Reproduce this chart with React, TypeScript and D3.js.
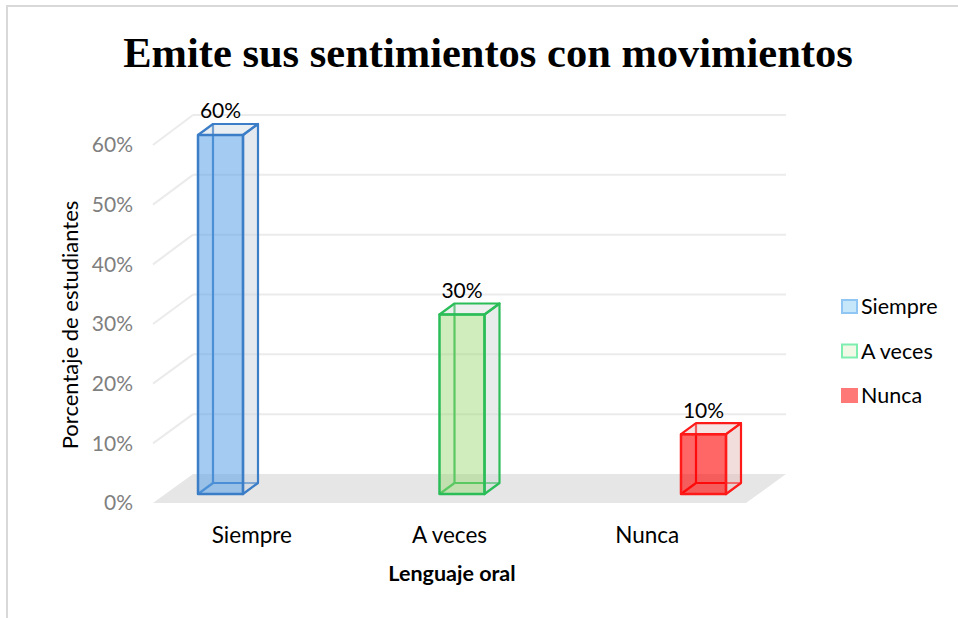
import React from "react";
import * as d3 from "d3";

const categories = ["Siempre", "A veces", "Nunca"];
const values = [0.6, 0.3, 0.1];
const dataLabels = ["60%", "30%", "10%"];
const yTicks = [0, 0.1, 0.2, 0.3, 0.4, 0.5, 0.6];
const barFill = ["#5aa0e6", "#96d76e", "#ff0000"];
const barFillOpacity = [0.55, 0.45, 0.6];
const barStroke = ["#3b7dc6", "#2bbd58", "#ff1a1a"];
const sideFill = ["#c9d4e2", "#d2dad6", "#e6bcbc"];
const legendFill = ["#c6e6fa", "#f1f8e6", "#ff7878"];
const legendStroke = ["#90c6f4", "#7eeeb0", "#ff7878"];

const TITLE = "Emite sus sentimientos con movimientos";
const Y_TITLE = "Porcentaje de estudiantes";
const X_TITLE = "Lenguaje oral";

const SANS = "Lato, 'Open Sans', sans-serif";

export default function App() {
  // front plane (axis labels) and back wall
  const yFront = d3.scaleLinear().domain([0, 0.6]).range([503, 145]);
  const yBack = d3.scaleLinear().domain([0, 0.6]).range([474, 115]);
  const depthDx = 40;
  const frontLeft = 153;
  const frontRight = 746;
  const xLabel = d3.scaleBand<string>().domain(categories).range([frontLeft, frontRight]);
  // bars plane
  const xBar = d3.scalePoint<string>().domain(categories).range([220.5, 703.5]);
  const yBar = d3.scaleLinear().domain([0, 0.6]).range([494, 135]);
  const bw = 45;
  const bdx = 15;
  const bdy = -11;

  const pts = (p: number[][]) => p.map((q) => q.join(",")).join(" ");

  return (
    <svg
      width={958}
      height={618}
      style={{ position: "absolute", left: 0, top: 0, background: "#fff" }}
    >
      <rect x={0} y={0} width={958} height={618} fill="#fff" />
      <rect x={7} y={6} width={1000} height={700} fill="#fff" stroke="#d9d9d9" strokeWidth={2} />

      {/* title */}
      <text
        x={488}
        y={67}
        textAnchor="middle"
        fontFamily="'Liberation Serif', 'Times New Roman', serif"
        fontWeight="bold"
        fontSize={42.5}
        fill="#000"
      >
        {TITLE}
      </text>

      {/* floor */}
      <polygon
        points={pts([
          [frontLeft, yFront(0)],
          [frontRight, yFront(0)],
          [frontRight + depthDx, yBack(0)],
          [frontLeft + depthDx, yBack(0)],
        ])}
        fill="#e6e6e6"
      />

      {/* gridlines */}
      {yTicks.slice(1).map((t) => (
        <g key={t} stroke="#ebebeb" strokeWidth={2} fill="none">
          <line x1={frontLeft} y1={yFront(t)} x2={frontLeft + depthDx} y2={yBack(t)} />
          <line x1={frontLeft + depthDx} y1={yBack(t)} x2={frontRight + depthDx} y2={yBack(t)} />
        </g>
      ))}

      {/* y tick labels */}
      {yTicks.map((t) => (
        <text
          key={t}
          x={133}
          y={yFront(t)}
          dy="0.35em"
          textAnchor="end"
          fontFamily={SANS}
          fontSize={21}
          fill="#7f7f7f"
        >
          {`${Math.round(t * 100)}%`}
        </text>
      ))}

      {/* bars */}
      {categories.map((c, i) => {
        const cx = xBar(c) as number;
        const x0 = cx - bw / 2;
        const x1 = cx + bw / 2;
        const yT = yBar(values[i]);
        const yB = yBar(0);
        const s = barStroke[i];
        return (
          <g key={c}>
            {/* hidden back edges */}
            <g stroke={s} strokeWidth={2.2} fill="none" strokeLinejoin="round">
              <line x1={x0 + bdx} y1={yT + bdy} x2={x0 + bdx} y2={yB + bdy} />
              <line x1={x0 + bdx} y1={yB + bdy} x2={x1 + bdx} y2={yB + bdy} />
              <line x1={x0} y1={yB} x2={x0 + bdx} y2={yB + bdy} />
            </g>
            {/* right face */}
            <polygon
              points={pts([
                [x1, yT],
                [x1 + bdx, yT + bdy],
                [x1 + bdx, yB + bdy],
                [x1, yB],
              ])}
              fill={sideFill[i]}
              fillOpacity={0.5}
              stroke={s}
              strokeWidth={2.2}
              strokeLinejoin="round"
            />
            {/* top face */}
            <polygon
              points={pts([
                [x0, yT],
                [x0 + bdx, yT + bdy],
                [x1 + bdx, yT + bdy],
                [x1, yT],
              ])}
              fill={sideFill[i]}
              fillOpacity={0.4}
              stroke={s}
              strokeWidth={2.2}
              strokeLinejoin="round"
            />
            {/* front face */}
            <rect
              x={x0}
              y={yT}
              width={x1 - x0}
              height={yB - yT}
              fill={barFill[i]}
              fillOpacity={barFillOpacity[i]}
              stroke={s}
              strokeWidth={2.5}
              strokeLinejoin="round"
            />
            <text
              x={cx}
              y={yT - 24}
              dy="0.35em"
              textAnchor="middle"
              fontFamily={SANS}
              fontSize={21}
              fill="#000"
            >
              {dataLabels[i]}
            </text>
          </g>
        );
      })}

      {/* category labels */}
      {categories.map((c) => (
        <text
          key={c}
          x={(xLabel(c) as number) + xLabel.bandwidth() / 2}
          y={535}
          dy="0.35em"
          textAnchor="middle"
          fontFamily={SANS}
          fontSize={22.5}
          fill="#000"
        >
          {c}
        </text>
      ))}

      {/* axis titles */}
      <text
        x={452}
        y={573}
        dy="0.35em"
        textAnchor="middle"
        fontFamily={SANS}
        fontWeight="bold"
        fontSize={21.5}
        fill="#000"
      >
        {X_TITLE}
      </text>
      <text
        transform="translate(70,325) rotate(-90)"
        dy="0.35em"
        textAnchor="middle"
        fontFamily={SANS}
        fontSize={22}
        fill="#000"
      >
        {Y_TITLE}
      </text>

      {/* legend */}
      {categories.map((c, i) => (
        <g key={c} transform={`translate(842,${300 + i * 44.5})`}>
          <rect x={0} y={0} width={15} height={13} fill={legendFill[i]} stroke={legendStroke[i]} strokeWidth={2} />
          <text x={19} y={6.5} dy="0.35em" fontFamily={SANS} fontSize={21.5} fill="#000">
            {c}
          </text>
        </g>
      ))}
    </svg>
  );
}
